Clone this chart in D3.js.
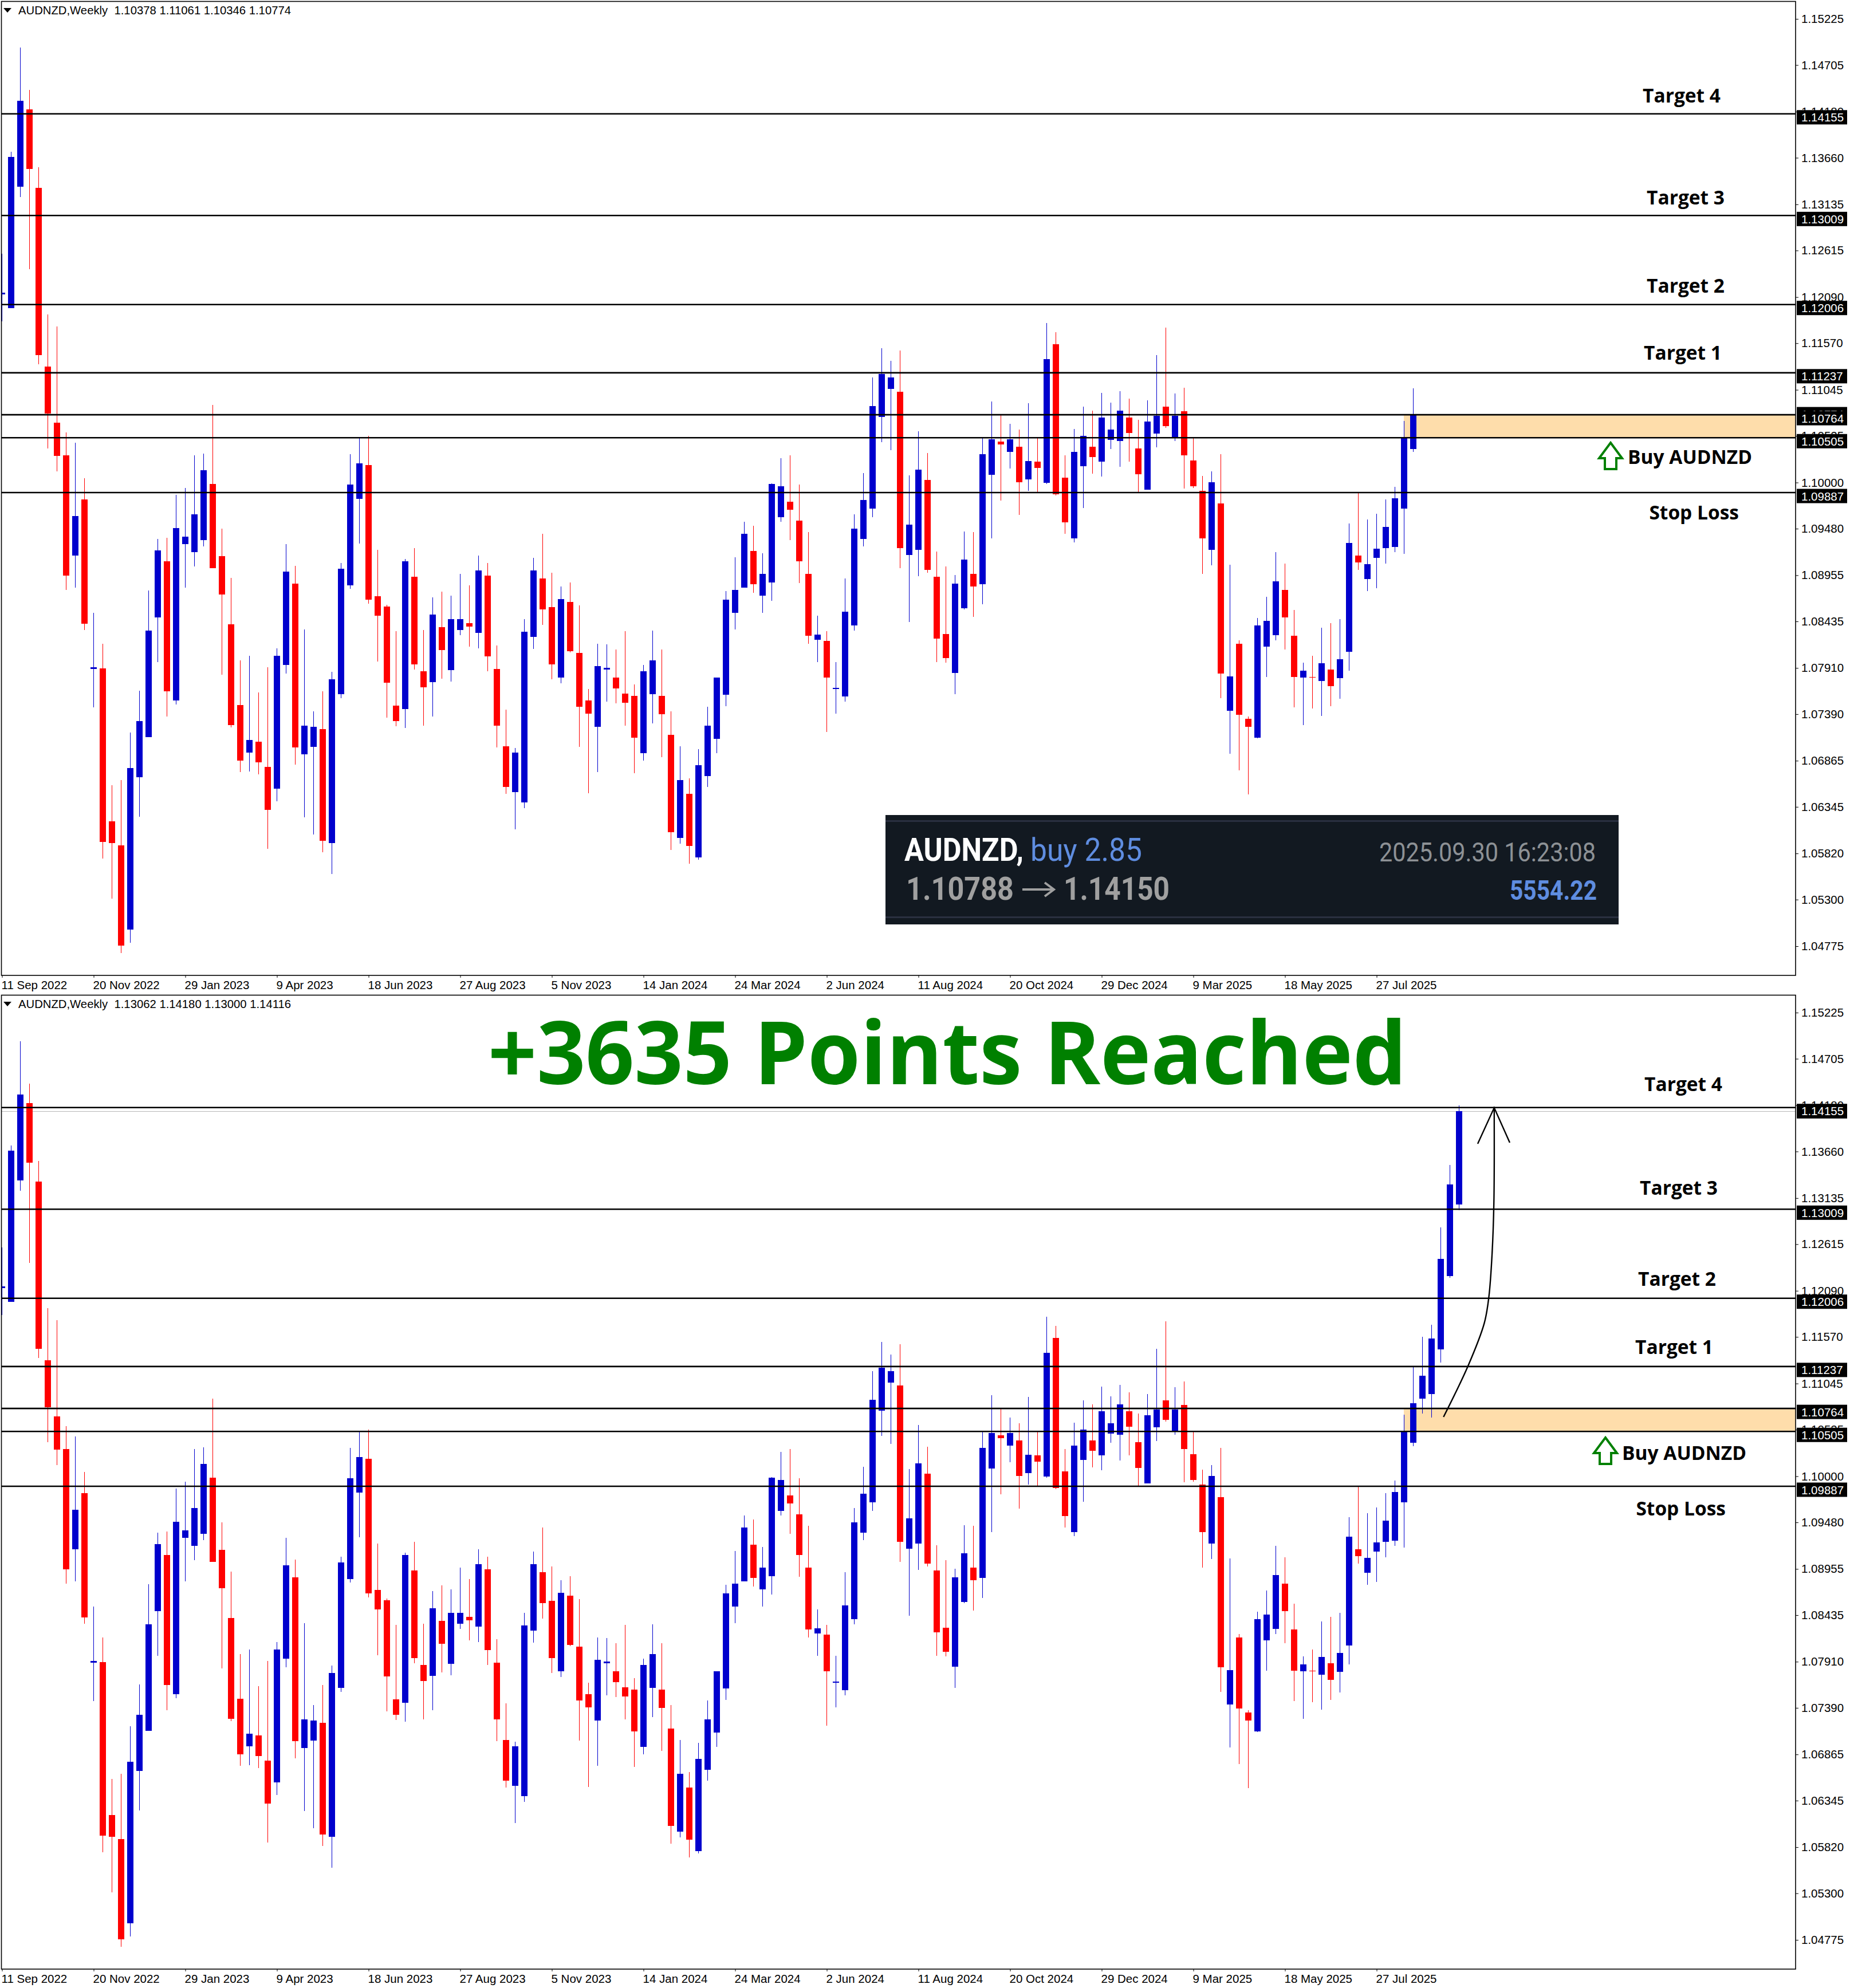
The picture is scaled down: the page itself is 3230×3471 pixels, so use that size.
<!DOCTYPE html>
<html><head><meta charset="utf-8">
<style>html,body{margin:0;padding:0;background:#fff}svg{display:block}</style>
<script src="https://cdn.jsdelivr.net/npm/d3@7"></script></head><body><svg id="c" width="3230" height="3471"></svg>
<script>
const open=[1.12120,1.11965,1.13334,1.14205,1.13321,1.11307,1.10674,1.10306,1.09177,1.09809,
1.07899,1.07905,1.06182,1.05910,1.04962,1.06679,1.07130,1.08480,1.09112,1.07544,
1.09306,1.09215,1.09351,1.09984,1.09170,1.08402,1.07492,1.06956,1.07079,1.06795,
1.06549,1.07944,1.08860,1.06937,1.07021,1.07221,1.05936,1.07615,1.08841,1.09816,
1.10197,1.08718,1.08602,1.07485,1.07447,1.08938,1.07873,1.07750,1.08370,1.07886,
1.08337,1.08415,1.08305,1.08951,1.07899,1.07027,1.06511,1.06395,1.08260,1.08918,
1.08596,1.07802,1.08654,1.08079,1.07544,1.07247,1.07892,1.07802,1.07621,1.07595,
1.06950,1.07615,1.07595,1.07156,1.05994,1.06491,1.05775,1.06691,1.07111,1.07608,
1.08531,1.08815,1.09228,1.08725,1.08873,1.09609,1.09783,1.09570,1.08970,1.08228,
1.08215,1.07673,1.07589,1.08389,1.09364,1.09706,1.10739,1.11055,1.11023,1.09183,
1.09241,1.10029,1.08938,1.08292,1.07853,1.08583,1.08970,1.08854,1.10087,1.10461,
1.10345,1.10403,1.10035,1.10235,1.09996,1.11559,1.10055,1.09370,1.10184,1.10403,
1.10235,1.10481,1.10468,1.10732,1.10384,1.09919,1.10552,1.10855,1.10506,1.10803,
1.10248,1.09906,1.09241,1.09764,1.07427,1.08183,1.07337,1.07124,1.08150,1.08279,
1.08789,1.08273,1.07802,1.07808,1.07763,1.07892,1.07795,1.08092,1.09177,1.08912,
1.09151,1.09261,1.09273,1.09706,1.10378,1.10874,1.10926,1.11429,1.12256,1.13062];
const high=[1.12578,1.13727,1.14902,1.14425,1.13553,1.11894,1.11759,1.10564,1.10448,1.10048,
1.08531,1.08183,1.06588,1.06646,1.07182,1.07653,1.08783,1.09364,1.09377,1.09861,
1.09938,1.10306,1.10326,1.10874,1.09480,1.08925,1.07995,1.08047,1.07634,1.07918,
1.08131,1.09306,1.09060,1.08344,1.07421,1.07647,1.07866,1.09093,1.10319,1.10500,
1.10526,1.09241,1.08622,1.08325,1.09138,1.09261,1.08337,1.08705,1.08770,1.08725,
1.08970,1.08841,1.09177,1.09093,1.08163,1.07440,1.07008,1.08460,1.09151,1.09422,
1.08983,1.08828,1.08873,1.08615,1.07673,1.08183,1.08176,1.08118,1.08325,1.07724,
1.07944,1.08331,1.08118,1.07421,1.07027,1.06666,1.06995,1.07473,1.07802,1.08776,
1.09157,1.09558,1.09512,1.09202,1.09990,1.10274,1.10306,1.09977,1.09441,1.08499,
1.08325,1.07976,1.08918,1.09641,1.10106,1.11184,1.11513,1.11371,1.11488,1.10080,
1.10577,1.10332,1.09222,1.09054,1.08957,1.09448,1.09441,1.10506,1.10913,1.10758,
1.10661,1.10597,1.10894,1.10506,1.11797,1.11694,1.10306,1.10603,1.10855,1.10810,
1.11010,1.10900,1.11029,1.10945,1.10706,1.10926,1.11436,1.11746,1.11003,1.11068,
1.10506,1.10074,1.10126,1.10319,1.09073,1.08221,1.07363,1.08473,1.08712,1.09215,
1.09086,1.08563,1.07970,1.08047,1.08363,1.08415,1.08460,1.09538,1.09893,1.09583,
1.09648,1.09809,1.09951,1.10694,1.11229,1.11572,1.11707,1.12804,1.13508,1.14180];
const low=[1.11817,1.11965,1.13217,1.12404,1.11333,1.10384,1.10126,1.08789,1.08815,1.08337,
1.07466,1.05762,1.05310,1.04697,1.04813,1.06233,1.07130,1.07976,1.07363,1.07498,
1.08815,1.09054,1.09280,1.09035,1.07834,1.07240,1.06737,1.06743,1.06711,1.05872,
1.06407,1.07847,1.06821,1.06227,1.06033,1.05833,1.05588,1.07569,1.08802,1.09312,
1.08634,1.07983,1.07350,1.07253,1.07234,1.07892,1.07260,1.07363,1.07789,1.07757,
1.08279,1.08150,1.08131,1.07873,1.07014,1.06491,1.06091,1.06330,1.08125,1.08396,
1.07782,1.07737,1.08086,1.07021,1.06498,1.06737,1.07531,1.07511,1.07260,1.06724,
1.06866,1.07285,1.06904,1.05859,1.05930,1.05704,1.05749,1.06569,1.06950,1.07479,
1.08344,1.08815,1.08757,1.08531,1.08667,1.09558,1.09351,1.08867,1.08183,1.07976,
1.07189,1.07395,1.07531,1.08331,1.09280,1.09609,1.10455,1.10364,1.09035,1.08428,
1.08944,1.08983,1.07976,1.07970,1.07615,1.08570,1.08486,1.08628,1.09370,1.09796,
1.10158,1.09635,1.09906,1.09893,1.09984,1.09854,1.09422,1.09325,1.09712,1.10100,
1.10067,1.10377,1.10177,1.10235,1.09893,1.09919,1.10397,1.10616,1.10468,1.09932,
1.09938,1.08970,1.09067,1.07569,1.06943,1.06756,1.06485,1.07117,1.07808,1.08221,
1.08118,1.07466,1.07266,1.07453,1.07369,1.07479,1.07563,1.07879,1.09015,1.08776,
1.08809,1.09086,1.09215,1.09196,1.10339,1.10706,1.10661,1.11281,1.12236,1.13000];
const close=[1.12139,1.13669,1.14302,1.13534,1.11436,1.10777,1.10300,1.08951,1.09622,1.08408,
1.07918,1.05949,1.05936,1.04781,1.06782,1.07311,1.08331,1.09235,1.07647,1.09486,
1.09390,1.09641,1.10138,1.09035,1.08738,1.07266,1.06866,1.07098,1.06846,1.06311,
1.08047,1.08996,1.07014,1.07260,1.07247,1.05962,1.07782,1.09028,1.09977,1.10216,
1.08680,1.08499,1.07744,1.07311,1.09112,1.07950,1.07692,1.08512,1.08112,1.08460,
1.08460,1.08376,1.09009,1.08041,1.07260,1.06569,1.06956,1.08318,1.09009,1.08570,
1.07950,1.08686,1.08099,1.07473,1.07395,1.07931,1.07911,1.07679,1.07518,1.07124,
1.07873,1.07995,1.07389,1.06059,1.06646,1.05904,1.06814,1.07260,1.07802,1.08680,
1.08789,1.09422,1.08854,1.08970,1.09984,1.09958,1.09693,1.09112,1.08273,1.08286,
1.07802,1.07686,1.08544,1.09480,1.09803,1.10861,1.11223,1.11184,1.09261,1.09525,
1.10145,1.09015,1.08241,1.08021,1.08860,1.09131,1.08828,1.10319,1.10487,1.10429,
1.10487,1.10003,1.10242,1.10164,1.11391,1.09867,1.09551,1.10345,1.10526,1.10287,
1.10732,1.10597,1.10810,1.10558,1.10093,1.10687,1.10752,1.10635,1.10752,1.10306,
1.09958,1.09370,1.10003,1.07847,1.07815,1.07382,1.07247,1.08389,1.08441,1.08886,
1.08480,1.07808,1.07879,1.07802,1.07963,1.07705,1.08008,1.09319,1.09099,1.09080,
1.09254,1.09499,1.09822,1.10506,1.10823,1.11133,1.11552,1.12449,1.13288,1.14116];
// the upper snapshot stops at bar 154, while that week was still open
const snapshotOHLC=[1.10378,1.11061,1.10346,1.10774];
const snapshotBars=155;
const dateLabels=["11 Sep 2022","20 Nov 2022","29 Jan 2023","9 Apr 2023","18 Jun 2023","27 Aug 2023","5 Nov 2023","14 Jan 2024","24 Mar 2024","2 Jun 2024","11 Aug 2024","20 Oct 2024","29 Dec 2024","9 Mar 2025","18 May 2025","27 Jul 2025"];
const priceTicks=[1.15225,1.14705,1.14180,1.13660,1.13135,1.12615,1.12090,1.11570,1.11045,1.10525,1.10000,1.09480,1.08955,1.08435,1.07910,1.07390,1.06865,1.06345,1.05820,1.05300,1.04775];
const levels=[1.14155,1.13009,1.12006,1.11237,1.10764,1.10505,1.09887];
const zoneBounds=[1.10764,1.10505];
const targetNames=["Target 4","Target 3","Target 2","Target 1","Buy AUDNZD","Stop Loss"];
// curved arrow of the lower panel, in bar index and price
const curveBars=[157.3,160,161.75,162.25,162.6,162.8,162.83];
const curvePrices=[1.10668,1.11249,1.11726,1.12023,1.12507,1.13101,1.14153];
const headBars=[161.03,162.83,164.53];
const headPrices=[1.13747,1.14153,1.13760];

const svg=d3.select("#c");
const FONT='"Liberation Sans",sans-serif', BOLD='"Open Sans","Noto Sans",sans-serif';
const L=2.5,R=3135,T0=2.5,B0=1703;
const x=d3.scaleLinear().domain([0,10]).range([3.5,163.5]);
const y=d3.scaleLinear().domain([1.15225,1.04775]).range([33,1652]);
const defs=svg.append("defs");
defs.append("clipPath").attr("id","plot").append("rect").attr("x",L).attr("y",T0).attr("width",R-L).attr("height",B0-T0);

function panel(offset,n,last,header,labels,arrow){
  const g=svg.append("g").attr("transform",`translate(0,${offset})`);
  const bars=d3.range(n).map(i=>({i,o:open[i],h:high[i],l:low[i],c:close[i]}));
  if(last){const b=bars[n-1];[b.o,b.h,b.l,b.c]=last;}
  const cur=bars[n-1].c;
  const plot=g.append("g").attr("clip-path","url(#plot)");
  plot.append("rect").attr("x",x(153)-0.5).attr("y",y(zoneBounds[0])).attr("width",R-x(153)+0.5)
    .attr("height",y(zoneBounds[1])-y(zoneBounds[0])).attr("fill","#FEDDAB");
  plot.append("line").attr("x1",L).attr("x2",R).attr("y1",Math.round(y(cur))+.5).attr("y2",Math.round(y(cur))+.5).attr("stroke","#b8b8b8").attr("stroke-width",1);
  const col=d=>d.c>=d.o?"#0000CD":"#FF0000";
  plot.selectAll(".w").data(bars).join("rect").attr("x",d=>x(d.i)-.5).attr("width",1)
    .attr("y",d=>Math.round(y(d.h))).attr("height",d=>Math.round(y(d.l))-Math.round(y(d.h))).attr("fill",col);
  plot.selectAll(".b").data(bars).join("rect").attr("x",d=>x(d.i)-5.5).attr("width",11)
    .attr("y",d=>Math.round(y(Math.max(d.o,d.c)))).attr("height",d=>Math.max(1,Math.round(y(Math.min(d.o,d.c)))-Math.round(y(Math.max(d.o,d.c)))))
    .attr("fill",col);
  plot.selectAll(".lv").data(levels).join("line").attr("x1",L).attr("x2",R)
    .attr("y1",d=>y(d)).attr("y2",d=>y(d)).attr("stroke","#000").attr("stroke-width",2.6);
  // frame
  g.append("rect").attr("x",L).attr("y",T0).attr("width",R-L).attr("height",B0-T0).attr("fill","none").attr("stroke","#000").attr("stroke-width",1.6);
  // axes
  const ay=g.append("g").attr("transform",`translate(${R},0)`)
    .call(d3.axisRight(y).tickValues(priceTicks).tickSize(5).tickPadding(5).tickFormat(d3.format(".5f")));
  ay.select(".domain").remove();
  ay.selectAll("text").attr("font-size",20.5).attr("font-family",FONT).attr("fill","#000");
  const ticks=d3.range(dateLabels.length).map(k=>k*10);
  const ax=g.append("g").attr("transform",`translate(0,${B0})`)
    .call(d3.axisBottom(x).tickValues(ticks).tickSize(4).tickPadding(5).tickFormat((d,k)=>dateLabels[k]));
  ax.select(".domain").remove();
  ax.selectAll("text").attr("font-size",20.5).attr("font-family",FONT).attr("text-anchor","start").attr("fill","#000").attr("dx",-1.5);
  // header
  g.append("path").attr("d","M6,14 L20,14 L13,22 Z").attr("fill","#000");
  g.append("text").attr("x",32).attr("y",25).attr("font-size",20).attr("font-family",FONT).attr("xml:space","preserve").attr("textLength",476).attr("lengthAdjust","spacingAndGlyphs").text(header);
  // price tags
  const tag=(v,h0,dy)=>{
    g.append("rect").attr("x",3137).attr("y",y(v)+h0).attr("width",88).attr("height",25).attr("fill","#000");
    g.append("text").attr("x",3145).attr("y",y(v)+dy).attr("font-size",20.5).attr("font-family",FONT).attr("fill","#fff").attr("dominant-baseline","central").text(v.toFixed(5));
  };
  tag(cur,-12,1);
  levels.forEach(v=>tag(v,-6.5,6));
  // labels
  labels.forEach(t=>{
    g.append("text").attr("x",t.x).attr("y",t.y).attr("text-anchor","end").attr("font-family",BOLD).attr("font-weight",700).attr("font-size",33.5).attr("fill","#000").text(t.s);
  });
  // green arrow
  const a=arrow;
  g.append("path").attr("transform",`translate(${a[0]},${a[1]})`)
   .attr("d","M20,0 L40,27 L30,27 L30,46 L10,46 L10,27 L0,27 Z").attr("fill","#fff").attr("stroke","#008000").attr("stroke-width",4);
  return g;
}
const lbl=(s,x,y)=>({s,x,y});
panel(0,snapshotBars,snapshotOHLC,"AUDNZD,Weekly  1.10378 1.11061 1.10346 1.10774",[
 lbl(targetNames[0],3004,179),lbl(targetNames[1],3011,357),lbl(targetNames[2],3011,511),lbl(targetNames[3],3006,628),lbl(targetNames[4],3059,810),lbl(targetNames[5],3036,907)],[2792,773]);
const g2=panel(1735,open.length,null,"AUDNZD,Weekly  1.13062 1.14180 1.13000 1.14116",[
 lbl(targetNames[0],3007,170),lbl(targetNames[1],2999,351),lbl(targetNames[2],2996,510),lbl(targetNames[3],2991,629),lbl(targetNames[4],3049,814),lbl(targetNames[5],3013,911)],[2783,775]);
// curved arrow
const curve=d3.line().x(d=>x(d[0])).y(d=>y(d[1])).curve(d3.curveCatmullRom.alpha(.5));
g2.append("path").attr("d",curve(curveBars.map((b,i)=>[b,curvePrices[i]]))).attr("fill","none").attr("stroke","#000").attr("stroke-width",2.4);
g2.append("path").attr("d",d3.line().x(d=>x(d[0])).y(d=>y(d[1]))(headBars.map((b,i)=>[b,headPrices[i]]))).attr("fill","none").attr("stroke","#000").attr("stroke-width",2.4);
// headline
svg.append("text").attr("x",852).attr("y",1893).attr("font-family",BOLD).attr("font-weight",700).attr("font-size",152).attr("fill","#008000").attr("textLength",1604).attr("lengthAdjust","spacingAndGlyphs").text("+3635 Points Reached");
// result card
const card=svg.append("g");
card.append("rect").attr("x",1546).attr("y",1423).attr("width",1280).attr("height",191).attr("fill","#121921");
[1433,1601].forEach(v=>card.append("rect").attr("x",1546).attr("y",v-1).attr("width",1280).attr("height",3).attr("fill","#2a3040"));
const RB="Roboto,sans-serif";
const ct=(s,x,y,size,fill,w,anchor,len)=>{const t=card.append("text").attr("x",x).attr("y",y).attr("font-family",RB).attr("font-size",size).attr("font-weight",w).attr("fill",fill).attr("text-anchor",anchor||"start").text(s);if(len)t.attr("textLength",len).attr("lengthAdjust","spacingAndGlyphs");};
ct("AUDNZD,",1579,1503,56,"#fff",700,"start",208);
ct("buy 2.85",1799,1503,56,"#5f8de0",400,"start",195);
ct("1.10788",1582,1571,56,"#a0a0a0",700,"start",188);
ct("1.14150",1857,1571,56,"#a0a0a0",700,"start",185);
card.append("path").attr("d","M1785,1553 L1840,1553 M1824,1541 L1840,1553 L1824,1565").attr("fill","none").attr("stroke","#a0a0a0").attr("stroke-width",4);
ct("2025.09.30 16:23:08",2786,1504,46,"#8d9195",400,"end",378);
ct("5554.22",2788,1571,48,"#5f8de0",700,"end",152);
</script></body></html>
